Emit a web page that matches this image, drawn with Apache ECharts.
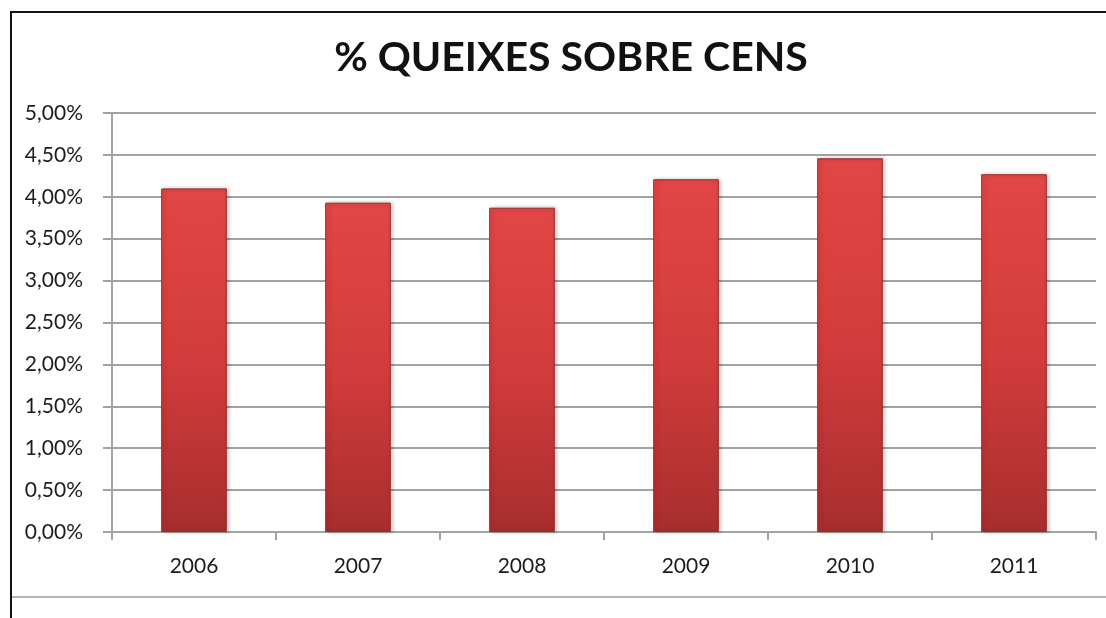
<!DOCTYPE html>
<html>
<head>
<meta charset="utf-8">
<script src="https://cdn.jsdelivr.net/npm/echarts@6/dist/echarts.min.js"></script>
<style>
  html, body { margin: 0; padding: 0; background: #fff; }
  #frame {
    position: absolute; left: 10px; top: 11px; width: 1096px; height: 607px;
    border-left: 2px solid #111; border-top: 2px solid #111;
  }
  #baseLine {
    position: absolute; left: 12px; top: 596px; width: 1094px; height: 0;
    border-top: 2px solid #b4b4b4;
  }
  #chart { position: absolute; left: 0; top: 0; width: 1106px; height: 618px; }
</style>
</head>
<body>
<div id="frame"></div>
<div id="baseLine"></div>
<div id="chart"></div>
<script>
const years = ["2006", "2007", "2008", "2009", "2010", "2011"];
const queixesPct = [4.10, 3.93, 3.87, 4.21, 4.46, 4.27];
const yTicks = { min: 0, max: 5, interval: 0.5 };
const titleText = "% QUEIXES SOBRE CENS";

const FONT = "Lato, 'Noto Sans', sans-serif";
const GRID_COLOR = "#a3a3a3";
const LABEL_COLOR = "#1c1c1c";

const barFill = new echarts.graphic.LinearGradient(0, 0, 0, 1, [
  { offset: 0, color: "#e24646" },
  { offset: 0.5, color: "#d33c3c" },
  { offset: 1, color: "#a82e2e" },
]);

const chart = echarts.init(document.getElementById("chart"), null, { renderer: "canvas" });
chart.setOption({
  animation: false,
  title: {
    text: titleText,
    left: 566, top: 32, textAlign: "center",
    textStyle: { fontFamily: FONT, fontWeight: "bold", fontSize: 41, color: "#111" },
  },
  grid: { left: 112, right: 10, top: 113, bottom: 86, outerBoundsMode: "none" },
  xAxis: {
    type: "category",
    data: years,
    axisLine: { lineStyle: { color: GRID_COLOR, width: 2 } },
    axisTick: { show: true, length: 8, lineStyle: { color: GRID_COLOR, width: 2 } },
    axisLabel: { fontFamily: FONT, fontSize: 21, color: LABEL_COLOR, margin: 24 },
  },
  yAxis: {
    type: "value",
    min: yTicks.min, max: yTicks.max, interval: yTicks.interval,
    axisLine: { show: true, lineStyle: { color: GRID_COLOR, width: 2 } },
    axisTick: { show: true, length: 9, lineStyle: { color: GRID_COLOR, width: 2 } },
    axisLabel: {
      fontFamily: FONT, fontSize: 21, color: LABEL_COLOR, margin: 29,
      formatter: (v) => v.toFixed(2).replace(".", ",") + "%",
    },
    splitLine: { lineStyle: { color: GRID_COLOR, width: 2 } },
  },
  series: [{
    type: "bar",
    data: queixesPct,
    barWidth: "40%",
    itemStyle: {
      color: barFill,
      borderColor: "#9c2a2a",
      borderWidth: 1,
      shadowColor: "rgba(0,0,0,0.25)",
      shadowBlur: 4,
      shadowOffsetX: 2,
    },
  }],
});
</script>
</body>
</html>
